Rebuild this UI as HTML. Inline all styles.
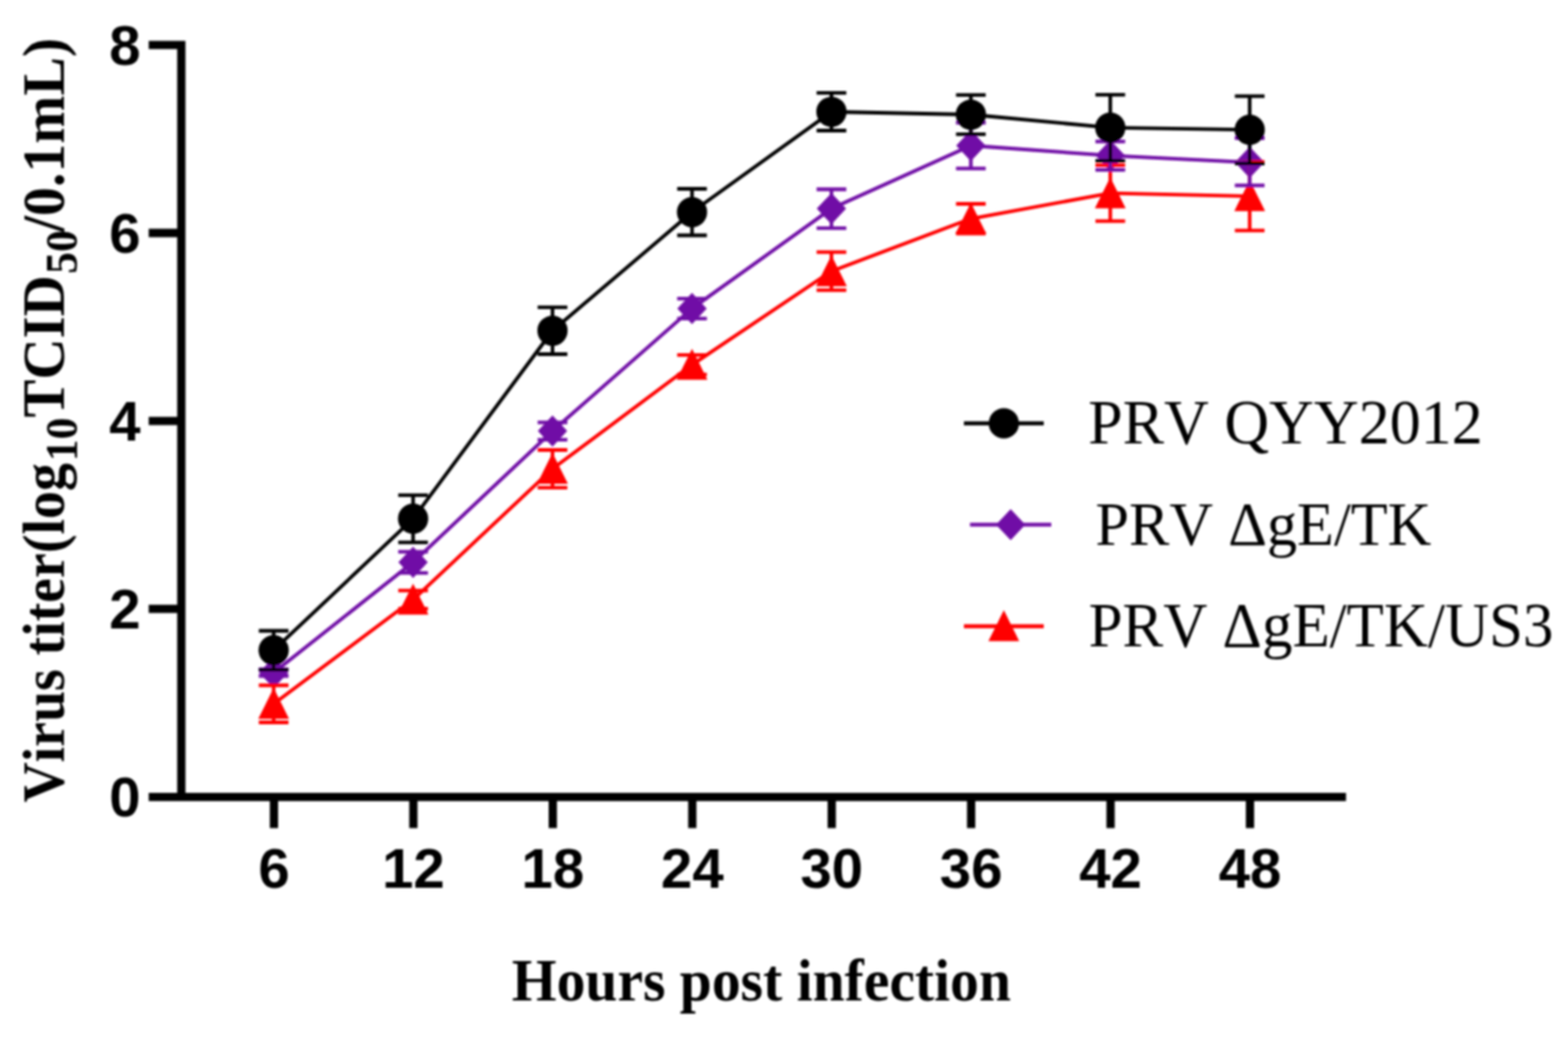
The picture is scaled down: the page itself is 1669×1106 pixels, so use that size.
<!DOCTYPE html>
<html lang="en">
<head>
<meta charset="utf-8">
<title>Virus titer growth curves</title>
<style>
html,body{margin:0;padding:0;background:#fff;}
body{width:1669px;height:1106px;overflow:hidden;}
svg{display:block;}
.tl{font-family:"Liberation Sans",sans-serif;font-weight:bold;font-size:60px;fill:#000;}
.at{font-family:"Liberation Serif",serif;font-weight:bold;font-size:63px;fill:#000;font-kerning:none;}
.lt{font-family:"Liberation Serif",serif;fill:#000;font-kerning:none;}
</style>
</head>
<body>
<svg width="1669" height="1106" viewBox="0 0 1669 1106">
<defs><filter id="soft" x="0" y="0" width="1669" height="1106" filterUnits="userSpaceOnUse"><feGaussianBlur stdDeviation="1.0"/></filter></defs>
<rect width="1669" height="1106" fill="#ffffff"/>
<g filter="url(#soft)">
<g id="series">
<path d="M291.3,699.4L306.9,716L291.3,732.6L275.7,716Z" fill="#700aa6"/>
<path d="M439.7,582L455.3,598.6L439.7,615.2L424.1,598.6Z" fill="#700aa6"/>
<path d="M588.1,442.2L603.7,458.8L588.1,475.4L572.5,458.8Z" fill="#700aa6"/>
<path d="M736.6,311.8L752.2,328.4L736.6,345L721,328.4Z" fill="#700aa6"/>
<path d="M885,205.5L900.6,222.1L885,238.7L869.4,222.1Z" fill="#700aa6"/>
<path d="M1033.4,138.4L1049,155L1033.4,171.6L1017.8,155Z" fill="#700aa6"/>
<path d="M1181.8,149L1197.4,165.6L1181.8,182.2L1166.2,165.6Z" fill="#700aa6"/>
<path d="M1330.2,156.2L1345.8,172.8L1330.2,189.4L1314.6,172.8Z" fill="#700aa6"/>
<path d="M291.3,729.5V769M275.5,729.5H307.1M275.5,769H307.1M439.7,628.7V648M423.9,628.7H455.5M423.9,648H455.5M588.1,479V519.2M572.3,479H603.9M572.3,519.2H603.9M736.6,377.9V398.7M720.8,377.9H752.4M720.8,398.7H752.4M885,268.4V308.9M869.2,268.4H900.8M869.2,308.9H900.8M1033.4,217V248.5M1017.6,217H1049.2M1017.6,248.5H1049.2M1181.8,175.9V235.4M1166,175.9H1197.6M1166,235.4H1197.6M1330.2,172.3V245.3M1314.4,172.3H1346M1314.4,245.3H1346" fill="none" stroke="#ff0303" stroke-width="3.8"/>
<path d="M291.3,749.2L439.7,638.3L588.1,499.1L736.6,388.3L885,288.7L1033.4,232.8L1181.8,205.7L1330.2,208.8" fill="none" stroke="#ff0303" stroke-width="3.8" stroke-linejoin="round"/>
<path d="M291.3,732.2L307.7,765.2L274.9,765.2Z" fill="#ff0303"/>
<path d="M439.7,621.3L456.1,654.3L423.3,654.3Z" fill="#ff0303"/>
<path d="M588.1,482.1L604.5,515.1L571.7,515.1Z" fill="#ff0303"/>
<path d="M736.6,371.3L753,404.3L720.2,404.3Z" fill="#ff0303"/>
<path d="M885,271.7L901.4,304.7L868.6,304.7Z" fill="#ff0303"/>
<path d="M1033.4,215.8L1049.8,248.8L1017,248.8Z" fill="#ff0303"/>
<path d="M1181.8,188.7L1198.2,221.7L1165.4,221.7Z" fill="#ff0303"/>
<path d="M1330.2,191.8L1346.6,224.8L1313.8,224.8Z" fill="#ff0303"/>
<path d="M291.3,716L439.7,598.6L588.1,458.8L736.6,328.4L885,222.1L1033.4,155L1181.8,165.6L1330.2,172.8" fill="none" stroke="#700aa6" stroke-width="3.8" stroke-linejoin="round"/>
<path d="M291.3,712.5V719.5M275.5,712.5H307.1M275.5,719.5H307.1M439.7,587.4V609.9M423.9,587.4H455.5M423.9,609.9H455.5M588.1,449.7V468.2M572.3,449.7H603.9M572.3,468.2H603.9M736.6,317.8V339.2M720.8,317.8H752.4M720.8,339.2H752.4M885,201.5V242.8M869.2,201.5H900.8M869.2,242.8H900.8M1033.4,130.7V179.3M1017.6,130.7H1049.2M1017.6,179.3H1049.2M1181.8,150.6V180.8M1166,150.6H1197.6M1166,180.8H1197.6M1330.2,147V197.3M1314.4,147H1346M1314.4,197.3H1346" fill="none" stroke="#700aa6" stroke-width="3.8"/>
<path d="M291.3,671.5V712.8M275.5,671.5H307.1M275.5,712.8H307.1M439.7,527.1V577.3M423.9,527.1H455.5M423.9,577.3H455.5M588.1,327.1V377M572.3,327.1H603.9M572.3,377H603.9M736.6,201V250.5M720.8,201H752.4M720.8,250.5H752.4M885,98.9V139M869.2,98.9H900.8M869.2,139H900.8M1033.4,101.2V142.9M1017.6,101.2H1049.2M1017.6,142.9H1049.2M1181.8,100.8V171.1M1166,100.8H1197.6M1166,171.1H1197.6M1330.2,102.3V174.1M1314.4,102.3H1346M1314.4,174.1H1346" fill="none" stroke="#000000" stroke-width="3.8"/>
<path d="M291.3,692.2L439.7,552.2L588.1,352L736.6,225.8L885,119L1033.4,122L1181.8,135.9L1330.2,138.2" fill="none" stroke="#000000" stroke-width="3.8" stroke-linejoin="round"/>
<circle cx="291.3" cy="692.2" r="16.1" fill="#000000"/>
<circle cx="439.7" cy="552.2" r="16.1" fill="#000000"/>
<circle cx="588.1" cy="352" r="16.1" fill="#000000"/>
<circle cx="736.6" cy="225.8" r="16.1" fill="#000000"/>
<circle cx="885" cy="119" r="16.1" fill="#000000"/>
<circle cx="1033.4" cy="122" r="16.1" fill="#000000"/>
<circle cx="1181.8" cy="135.9" r="16.1" fill="#000000"/>
<circle cx="1330.2" cy="138.2" r="16.1" fill="#000000"/>
</g>
<g id="axes">
<path d="M193,43.6V848.3M158.3,848.3H1432.7M158.3,648.2H193M158.3,448.1H193M158.3,248H193M158.3,47.9H193M291.6,848.3V881.6M440,848.3V881.6M588.4,848.3V881.6M736.9,848.3V881.6M885.3,848.3V881.6M1033.7,848.3V881.6M1182.1,848.3V881.6M1330.5,848.3V881.6" stroke="#000" stroke-width="8.8" fill="none"/>
<text class="tl" x="149.6" y="869.1" text-anchor="end">0</text>
<text class="tl" x="149.6" y="669" text-anchor="end">2</text>
<text class="tl" x="149.6" y="468.9" text-anchor="end">4</text>
<text class="tl" x="149.6" y="268.8" text-anchor="end">6</text>
<text class="tl" x="149.6" y="68.7" text-anchor="end">8</text>
<text class="tl" x="291.6" y="944.8" text-anchor="middle">6</text>
<text class="tl" x="440" y="944.8" text-anchor="middle">12</text>
<text class="tl" x="588.4" y="944.8" text-anchor="middle">18</text>
<text class="tl" x="736.9" y="944.8" text-anchor="middle">24</text>
<text class="tl" x="885.3" y="944.8" text-anchor="middle">30</text>
<text class="tl" x="1033.7" y="944.8" text-anchor="middle">36</text>
<text class="tl" x="1182.1" y="944.8" text-anchor="middle">42</text>
<text class="tl" x="1330.5" y="944.8" text-anchor="middle">48</text>
</g>
<g id="titles">
<text class="at" transform="translate(544.8,1065) scale(1,1.05)" x="0" y="0" style="font-size:61.3px">Hours post infection</text>
<text class="at" transform="translate(67.6,854.3) rotate(-90) scale(0.9281,1.0)" x="0" y="0" style="font-size:64px">Virus</text>
<text class="at" transform="translate(67.6,697.8) rotate(-90) scale(0.9297,1.0)" x="0" y="0" style="font-size:64px">titer(log</text>
<text class="at" transform="translate(81.6,491.0) rotate(-90) scale(0.9789,1.0)" x="0" y="0" style="font-size:47.5px">10</text>
<text class="at" transform="translate(67.6,444.5) rotate(-90) scale(0.9469,1.0)" x="0" y="0" style="font-size:64px">TCID</text>
<text class="at" transform="translate(81.6,291.5) rotate(-90) scale(0.9789,1.0)" x="0" y="0" style="font-size:47.5px">50</text>
<text class="at" transform="translate(67.6,247.0) rotate(-90) scale(0.9609,1.0)" x="0" y="0" style="font-size:64px">/0.1mL)</text>
</g>
<g id="legend">
<path d="M1026,450.7H1111" stroke="#000000" stroke-width="4.2" fill="none"/>
<circle cx="1068.5" cy="450.7" r="16.1" fill="#000000"/>
<text class="lt" transform="translate(1158.3,472.3) scale(1,1.025)" x="0" y="0" font-size="66">PRV QYY2012</text>
<path d="M1032.5,558.5H1119" stroke="#700aa6" stroke-width="4.2" fill="none"/>
<path d="M1075.8,541.9L1091.3,558.5L1075.8,575.1L1060.2,558.5Z" fill="#700aa6"/>
<text class="lt" transform="translate(1166,579.8) scale(1,1.025)" x="0" y="0" font-size="64.3">PRV ΔgE/TK</text>
<path d="M1026,666.6H1111" stroke="#ff0303" stroke-width="4.2" fill="none"/>
<path d="M1068.5,649.6L1084.9,682.6L1052.1,682.6Z" fill="#ff0303"/>
<text class="lt" transform="translate(1158.7,687.8) scale(1,1.025)" x="0" y="0" font-size="65">PRV ΔgE/TK/US3</text>
</g>
</g>
</svg>
</body>
</html>
